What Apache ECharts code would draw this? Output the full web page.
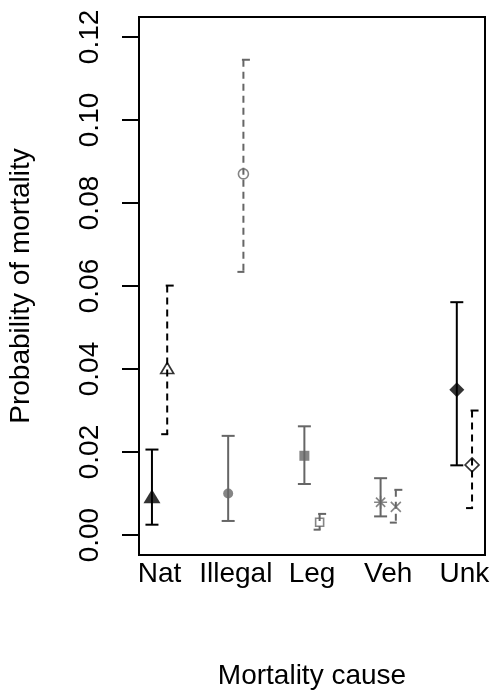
<!DOCTYPE html>
<html><head><meta charset="utf-8">
<script src="https://cdn.jsdelivr.net/npm/echarts@6/dist/echarts.min.js"></script>
<style>html,body{margin:0;padding:0;background:#fff}#c{width:490px;height:691px}</style>
</head><body><div id="c"></div>
<script>
// ---- data ----
const categories = ['Nat', 'Illegal', 'Leg', 'Veh', 'Unk'];
const yTicks = [0, 0.02, 0.04, 0.06, 0.08, 0.10, 0.12];
// filled symbols with solid error bars
const solidEst  = [0.0088, 0.0100, 0.0191, 0.0079, 0.0350];
const solidLow  = [0.0025, 0.0034, 0.0123, 0.0045, 0.0168];
const solidHigh = [0.0206, 0.0239, 0.0262, 0.0137, 0.0561];
// open symbols with dashed error bars
const openEst  = [0.0398, 0.0870, 0.0031, 0.0068, 0.0169];
const openLow  = [0.0243, 0.0634, 0.0013, 0.0030, 0.0065];
const openHigh = [0.0601, 0.1145, 0.0051, 0.0109, 0.0300];

// ---- styles ----
const BLACK = '#000000', GRAY = '#666666';
const catColor = [BLACK, GRAY, GRAY, GRAY, BLACK];
const DODGE = 0.1;
const FONT = 'Liberation Sans, Arial, Helvetica, sans-serif';
const ASTERISK = 'path://M0,5L10,5M5,0L5,10M1.46,1.46L8.54,8.54M8.54,1.46L1.46,8.54';
const CROSS = 'path://M0,0L10,10M10,0L0,10';
const solidSym = [
  {symbol: 'triangle', size: [17, 14], offset: [0, -2.3], fill: true},
  {symbol: 'circle', size: 10, fill: true},
  {symbol: 'rect', size: 10, fill: true},
  {symbol: ASTERISK, size: 13, fill: false},
  {symbol: 'diamond', size: 15, fill: true}
];
const openSym = [
  {symbol: 'triangle', size: [13, 11], offset: [0, -1.8], fill: false},
  {symbol: 'circle', size: 10, fill: false},
  {symbol: 'rect', size: 8, fill: false},
  {symbol: CROSS, size: 10, fill: false},
  {symbol: 'diamond', size: 14, fill: false}
];

function markerData(est, syms, dx) {
  return est.map((v, i) => {
    const s = syms[i], c = catColor[i];
    return {
      value: [i + 1 + dx, v],
      symbol: s.symbol,
      symbolSize: s.size,
      symbolOffset: s.offset || [0, 0],
      itemStyle: s.fill
        ? {color: c, borderColor: c, borderWidth: 0}
        : {color: 'rgba(0,0,0,0)', borderColor: c, borderWidth: 1.6}
    };
  });
}
function barData(low, high, dx) {
  return low.map((lo, i) => [i + 1 + dx, lo, high[i], i]);
}
function barRenderer(dashed) {
  return function (params, api) {
    const x = api.value(0), lo = api.value(1), hi = api.value(2), ci = api.value(3);
    const t = api.coord([x, hi]), b = api.coord([x, lo]);
    const color = catColor[ci];
    const st = {stroke: color, lineWidth: 2, lineDash: dashed ? [7, 5] : null, fill: null};
    const cst = {stroke: color, lineWidth: 2, fill: null};
    const capT = dashed ? [t[0] - 1.5, t[0] + 6.5] : [t[0] - 6.5, t[0] + 6.5];
    const capB = dashed ? [b[0] - 6, b[0] + 1] : [b[0] - 6.5, b[0] + 6.5];
    return {
      type: 'group',
      children: [
        {type: 'line', shape: {x1: t[0], y1: t[1], x2: b[0], y2: b[1]}, style: st},
        {type: 'line', shape: {x1: capT[0], y1: t[1], x2: capT[1], y2: t[1]}, style: cst},
        {type: 'line', shape: {x1: capB[0], y1: b[1], x2: capB[1], y2: b[1]}, style: cst}
      ]
    };
  };
}

const chart = echarts.init(document.getElementById('c'), null, {renderer: 'canvas'});
chart.setOption({
  animation: false,
  backgroundColor: '#ffffff',
  grid: {left: 139, right: 5, top: 17, bottom: 136, show: true, borderColor: '#000', borderWidth: 2, backgroundColor: 'transparent', containLabel: false, outerBoundsMode: 'none'},
  xAxis: {
    type: 'value', min: 0.73, max: 5.27,
    axisLine: {show: true, onZero: false, lineStyle: {color: '#000', width: 2}},
    axisTick: {show: false},
    splitLine: {show: false},
    axisLabel: {
      customValues: [1, 2, 3, 4, 5], margin: 5, fontSize: 28, color: '#000', fontFamily: FONT,
      formatter: v => categories[Math.round(v) - 1] || ''
    },
    name: 'Mortality cause', nameLocation: 'middle', nameGap: 107,
    nameTextStyle: {fontSize: 28, color: '#000', fontFamily: FONT}
  },
  yAxis: {
    type: 'value', min: -0.0048, max: 0.1248,
    axisLine: {show: true, onZero: false, lineStyle: {color: '#000', width: 2}},
    axisTick: {show: true, customValues: yTicks, length: 17, lineStyle: {color: '#000', width: 2}},
    splitLine: {show: false},
    axisLabel: {
      customValues: yTicks, rotate: 90, margin: 35, fontSize: 28, color: '#000', fontFamily: FONT,
      formatter: v => v.toFixed(2)
    },
    name: 'Probability of mortality', nameLocation: 'middle', nameGap: 104, nameRotate: 90,
    nameTextStyle: {fontSize: 28, color: '#000', fontFamily: FONT}
  },
  series: [
    {type: 'custom', renderItem: barRenderer(false), data: barData(solidLow, solidHigh, -DODGE), z: 2, encode: {x: 0, y: [1, 2]}},
    {type: 'custom', renderItem: barRenderer(true), data: barData(openLow, openHigh, DODGE), z: 2, encode: {x: 0, y: [1, 2]}},
    {type: 'scatter', data: markerData(solidEst, solidSym, -DODGE), z: 3},
    {type: 'scatter', data: markerData(openEst, openSym, DODGE), z: 3}
  ]
});
</script>
</body></html>
